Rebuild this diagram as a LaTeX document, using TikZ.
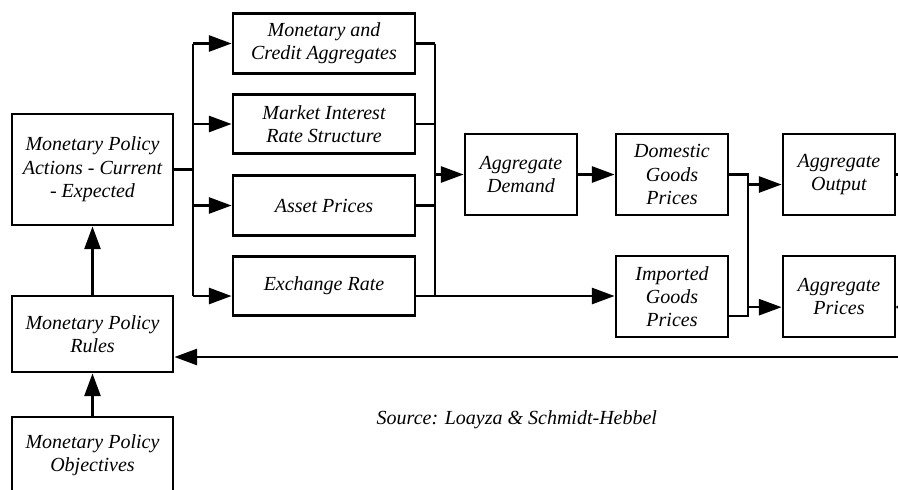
\documentclass[tikz,border=0pt]{standalone}
\usepackage{fontspec}
\setmainfont{Liberation Serif}
\usetikzlibrary{arrows.meta}

\begin{document}
\begin{tikzpicture}[x=0.75pt,y=-0.75pt,
  box/.style={draw,line width=2.1pt,align=center,inner sep=0pt,
    font=\fontsize{15}{17.5}\selectfont\itshape},
  side/.style={box,minimum width=120.75pt,minimum height=57pt},
  wide/.style={box,minimum width=136.5pt,minimum height=44.6pt},
  small/.style={box,minimum width=84pt,minimum height=60.75pt},
  link/.style={line width=1.9pt},
  arr/.style={link,-{Triangle[length=17pt,width=12pt]}}]
 \useasboundingbox (0,0) rectangle (898,489);
 \clip (0,0) rectangle (898,489);
 \node[side,minimum height=83.25pt] (act) at (92.5,169.5){Monetary Policy\\Actions - Current\\- Expected};
 \node[side] (rules) at (92.5,334){Monetary Policy\\Rules};
 \node[side] (obj) at (92.5,455){Monetary Policy\\Objectives};
 \node[wide] (mon) at (324,43.5){Monetary and\\Credit Aggregates};
 \node[wide] (rate) at (324,124){Market Interest\\Rate Structure};
 \node[wide] (asset) at (324,205.5){Asset Prices};
 \node[wide] (exch) at (324,286){Exchange Rate};
 \node[small] (dem) at (521,174.5){Aggregate\\Demand};
 \node[small] (dom) at (672,174.5){Domestic\\Goods\\Prices};
 \node[small] (imp) at (672,296.5){Imported\\Goods\\Prices};
 \node[small] (out) at (839,174.5){Aggregate\\Output};
 \node[small] (prices) at (839,296.5){Aggregate\\Prices};
 \node[anchor=west,font=\fontsize{15}{17.5}\selectfont\itshape] (src) at (372,420){Source: Loayza \& Schmidt-Hebbel};
 \coordinate (lb) at (193,169.5);
 \coordinate (rb) at (435,174.5);
 \coordinate (mg) at (748,174.5);
 \coordinate (exchin) at ([yshift=-7.5pt]exch.west);
 \coordinate (exchout) at ([yshift=-7.5pt]exch.east);
 \coordinate (impout) at ([yshift=-14.6pt]imp.east);
 \coordinate (outin) at ([yshift=-7.5pt]out.west);
 \coordinate (pricesin) at ([yshift=-8pt]prices.west);
 \coordinate (pricesout) at ([yshift=-8pt]prices.east);
 \coordinate (edgeO) at (898,174.5);
 \coordinate (edgeP) at (898,307);
 \coordinate (fb) at (898,357);
 \draw[arr] (obj) -- (rules);
 \draw[arr] (rules) -- (act);
 \draw[link] (act.east) -- (lb);
 \draw[link] (lb |- mon.west) -- (lb |- exchin);
 \foreach \b in {mon,rate,asset}
   \draw[arr] (lb |- \b.west) -- (\b.west);
 \draw[arr] (lb |- exchin) -- (exchin);
 \foreach \b in {mon,rate,asset}
   \draw[link] (\b.east) -- (rb |- \b.east);
 \draw[link] (rb |- mon.east) -- (rb |- exchout);
 \draw[arr] (exchout) -- (exchout -| imp.west);
 \draw[arr] (rb) -- (dem.west);
 \draw[arr] (dem) -- (dom);
 \draw[link] (dom.east) -- (mg) -- (mg |- impout) -- (impout);
 \draw[arr] (mg |- outin) -- (outin);
 \draw[arr] (mg |- pricesin) -- (pricesin);
 \draw[link] (out.east) -- (edgeO);
 \draw[link] (pricesout) -- (edgeP);
 \draw[arr] (fb) -- (fb -| rules.east);
\end{tikzpicture}
\end{document}
